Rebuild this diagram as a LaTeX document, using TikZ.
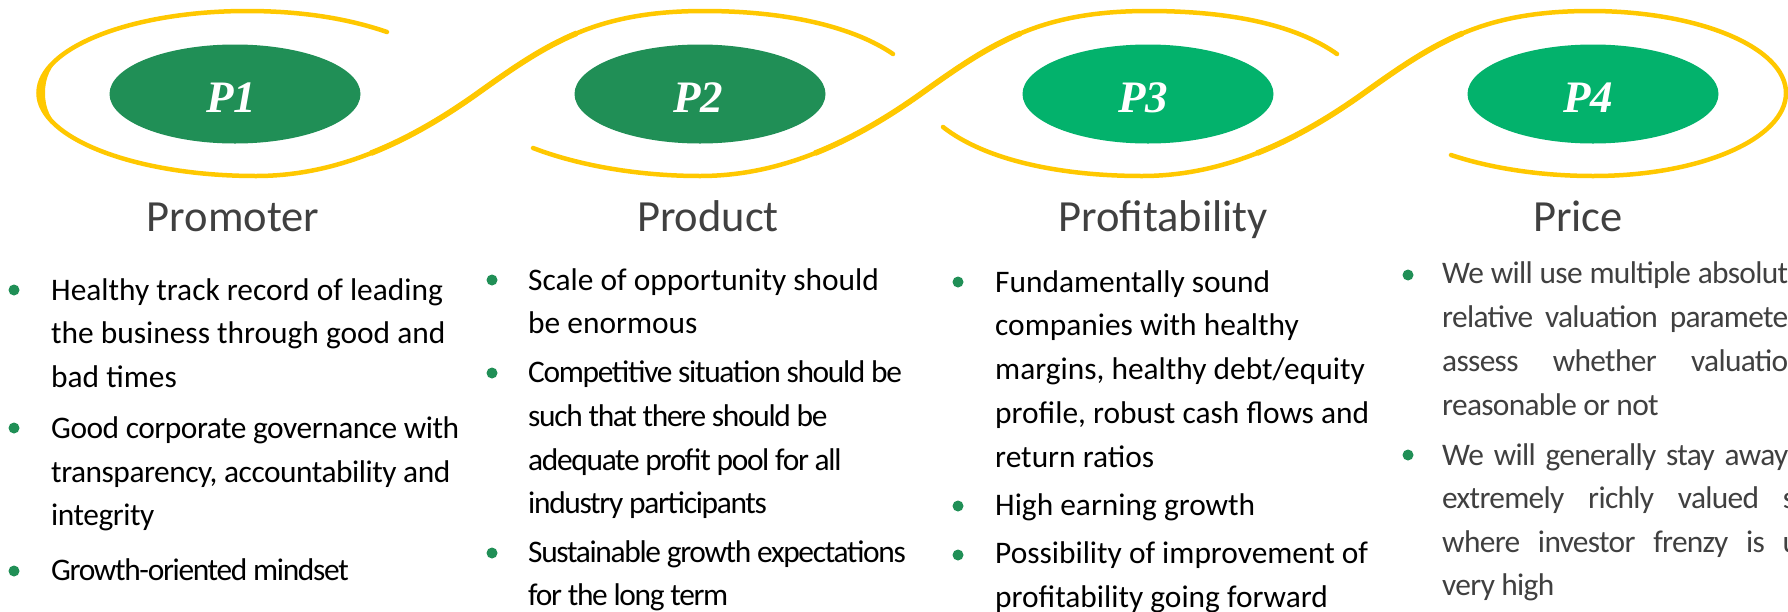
\documentclass[tikz,border=0pt]{standalone}
\usepackage{fontspec}
\setmainfont{Carlito}
\newfontfamily\pfont{Liberation Serif}
\usetikzlibrary{shapes.geometric}
\definecolor{dkgreen}{HTML}{208F56}
\definecolor{ltgreen}{HTML}{03B26C}
\definecolor{gold}{HTML}{FFC800}
\definecolor{titlegray}{HTML}{404040}
\definecolor{bodygray}{HTML}{404040}
\newcommand\bodysize{\fontsize{31.4}{40}\selectfont}
\newcommand\cnA{\addfontfeatures{LetterSpace=-1.5}}
\newcommand\cnB{\addfontfeatures{LetterSpace=-4.2}}
\newcommand\cnC{\addfontfeatures{LetterSpace=-2.2}}
\newcommand\bline[4]{\node[body] (#1) at (#2,#3) {#4};}
\newcommand\smid[1]{\draw[gold, line width=5.6pt, line cap=butt, shift={(#1,93)}]
 (-107.25,60.25) .. controls (-70.5,45.75) and (-35,25) .. (0,0)
 .. controls (35,-25) and (64.5,-45.5) .. (98.75,-59.75);}
\tikzset{
 pell/.style={ellipse, draw=none, minimum width=251pt, minimum height=99pt, inner sep=0pt},
 plabel/.style={text=white, inner sep=0pt, font=\pfont\bfseries\itshape\fontsize{45}{45}\selectfont},
 title/.style={anchor=base, inner sep=0pt, text=titlegray, font=\fontsize{44.5}{50}\selectfont},
 body/.style={anchor=base west, inner sep=0pt, font=\bodysize},
 bul/.style={circle, fill=dkgreen, inner sep=0pt, minimum size=11pt},
 loopline/.style={draw=gold, line width=4.5pt, line cap=round}
}
\begin{document}
\begin{tikzpicture}[x=1pt,y=-1pt]
\useasboundingbox (0,0) rectangle (1788,611);
\clip (0,0) rectangle (1788,611);
\fill[white] (0,0) rectangle (1788,611);

% yellow loops
\draw[loopline] (387,32) .. controls (355,21) and (310,11) .. (247,11)
 .. controls (131,11) and (38.5,48) .. (38.5,93)
 .. controls (38.5,138) and (135,176) .. (256,176)
 .. controls (336,176) and (408,143) .. (478,93)
 .. controls (548,43) and (596,11) .. (704,11)
 .. controls (790,11) and (855,28) .. (893,54);
\draw[loopline] (533,148) .. controls (580,166) and (640,176) .. (700,176)
 .. controls (780,176) and (852,143) .. (922,93)
 .. controls (992,43) and (1040,11) .. (1148,11)
 .. controls (1240,11) and (1300,28) .. (1337,54);
\draw[loopline] (943,127) .. controls (985,160) and (1060,176) .. (1142,176)
 .. controls (1222,176) and (1294,143) .. (1364,93)
 .. controls (1434,43) and (1482,11) .. (1590,11)
 .. controls (1700,11) and (1786,48) .. (1786,93)
 .. controls (1786,138) and (1702,176) .. (1593,176)
 .. controls (1540,176) and (1490,168) .. (1451,155);
% calligraphic thickening
\fill[gold] (123.5,26.9) .. controls (71.8,41.88) and (38.5,66) .. (38.5,93)
 .. controls (38.5,120) and (71.8,144.1) .. (123.5,159.1)
 .. controls (65,142) and (45,122) .. (45,93)
 .. controls (45,64) and (65,44) .. cycle;
\smid{478}
\smid{922}
\smid{1364}

% ellipses
\node[pell, fill=dkgreen] (e1) at (235,94) {};
\node[pell, fill=dkgreen] (e2) at (700,94) {};
\node[pell, fill=ltgreen] (e3) at (1148,94) {};
\node[pell, fill=ltgreen] (e4) at (1593,94) {};
\node[plabel] (p1) at (231,98) {P1};
\node[plabel] (p2) at (698,98) {P2};
\node[plabel] (p3) at (1143,98) {P3};
\node[plabel] (p4) at (1588,98) {P4};

% titles
\node[title] (t1) at (233,231.5) {Promoter};
\node[title] (t2) at (708,231.5) {Product};
\node[title] (t3) at (1163,231.5) {Profitability};
\node[title] (t4) at (1578,231.5) {Price};

% column 1
\node[bul] (b11) at (14,290) {};
\node[bul] (b12) at (14,428) {};
\node[bul] (b13) at (14,571) {};
\bline{a1}{51}{300}{Healthy track record of leading}
\bline{a2}{51}{343.5}{the business through good and}
\bline{a3}{51}{387}{bad times}
\bline{a4}{51}{438}{\cnA Good corporate governance with}
\bline{a5}{51}{482}{\cnA transparency, accountability and}
\bline{a6}{51}{525}{\cnA integrity}
\bline{a7}{51}{580}{\cnB Growth-oriented mindset}

% column 2
\node[bul] (b21) at (492,280) {};
\node[bul] (b22) at (492,373) {};
\node[bul] (b23) at (492,553) {};
\bline{c1}{528}{290}{Scale of opportunity should}
\bline{c2}{528}{333}{be enormous}
\bline{c3}{528}{382}{\cnB Competitive situation should be}
\bline{c4}{528}{426}{\cnB such that there should be}
\bline{c5}{528}{470}{\cnB adequate profit pool for all}
\bline{c6}{528}{513}{\cnB industry participants}
\bline{c7}{528}{562}{\cnB Sustainable growth expectations}
\bline{c8}{528}{605}{\cnB for the long term}

% column 3
\node[bul] (b31) at (958,282) {};
\node[bul] (b32) at (958,506) {};
\node[bul] (b33) at (958,555) {};
\bline{d1}{995}{292}{Fundamentally sound}
\bline{d2}{995}{335}{companies with healthy}
\bline{d3}{995}{379}{margins, healthy debt/equity}
\bline{d4}{995}{423}{profile, robust cash flows and}
\bline{d5}{995}{467}{return ratios}
\bline{d6}{995}{515}{High earning growth}
\bline{d7}{995}{563}{Possibility of improvement of}
\bline{d8}{995}{607}{profitability going forward}

% column 4
\node[bul] (b41) at (1408,275) {};
\node[bul] (b42) at (1408,455) {};
\begin{scope}[every node/.append style={text=bodygray}]
\bline{f1}{1442}{283}{\cnC\makebox[346pt][s]{We will use multiple absolut}}
\bline{f2}{1442}{327}{\cnC\makebox[346pt][s]{relative valuation paramete}}
\bline{f3}{1442}{371}{\cnC\makebox[346pt][s]{assess whether valuatio}}
\bline{f4}{1442}{415}{\cnC reasonable or not}
\bline{f5}{1442}{465}{\cnC\makebox[346pt][s]{We will generally stay away}}
\bline{f6}{1442}{508}{\cnC\makebox[353pt][s]{extremely richly valued s}}
\bline{f7}{1442}{552}{\cnC\makebox[357pt][s]{where investor frenzy is u}}
\bline{f8}{1442}{595}{\cnC very high}
\end{scope}
\end{tikzpicture}
\end{document}
